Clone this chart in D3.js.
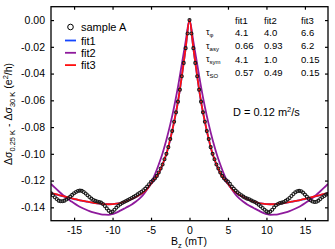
<!DOCTYPE html>
<html lang="en">
<head>
    <meta charset="UTF-8">
    <title>WAL fits</title>
    <script src="https://d3js.org/d3.v7.min.js"></script>
    <style>
        body { margin: 0; background: #fff; }
        svg { display: block; font-family: "Liberation Sans", Arial, sans-serif; }
    </style>
</head>
<body>
    <div id="chart"></div>

    <script>
    // Sample A, field step 0.25 mT from -18 to 18
    const sampleB = d3.range(-72, 73).map(i => i / 4);
    const sampleA = [
        -0.1295, -0.1310, -0.1325, -0.1338, -0.1350, -0.1355, -0.1355, -0.1350,
        -0.1342, -0.1332, -0.1320, -0.1307, -0.1295, -0.1285, -0.1278, -0.1275,
        -0.1277, -0.1285, -0.1297, -0.1310, -0.1323, -0.1335, -0.1345, -0.1352,
        -0.1357, -0.1360, -0.1365, -0.1375, -0.1390, -0.1408, -0.1425, -0.1437,
        -0.1432, -0.1418, -0.1402, -0.1388, -0.1377, -0.1368, -0.1360, -0.1353,
        -0.1346, -0.1338, -0.1330, -0.1322, -0.1313, -0.1303, -0.1293, -0.1283,
        -0.1272, -0.1260, -0.1245, -0.1228, -0.1210, -0.1198, -0.1185,
        -0.1165, -0.1140, -0.1110, -0.1080, -0.1040, -0.1000, -0.0950, -0.0890,
        -0.0830, -0.0760, -0.0690, -0.0610, -0.0520, -0.0420, -0.0320, -0.0210,
        -0.0100, 0.0000,
        -0.0100, -0.0210, -0.0320, -0.0420, -0.0520, -0.0610, -0.0690, -0.0760,
        -0.0830, -0.0890, -0.0950, -0.1000, -0.1040, -0.1080, -0.1110, -0.1140,
        -0.1165, -0.1185, -0.1198, -0.1208, -0.1225, -0.1245, -0.1260, -0.1275,
        -0.1288, -0.1300, -0.1310, -0.1320, -0.1328, -0.1335, -0.1340, -0.1348,
        -0.1355, -0.1360, -0.1370, -0.1380, -0.1392, -0.1405, -0.1418, -0.1430,
        -0.1438, -0.1432, -0.1418, -0.1400, -0.1385, -0.1375, -0.1368, -0.1365,
        -0.1360, -0.1352, -0.1342, -0.1330, -0.1315, -0.1300, -0.1287, -0.1280,
        -0.1277, -0.1280, -0.1290, -0.1305, -0.1320, -0.1335, -0.1348, -0.1357,
        -0.1360, -0.1358, -0.1350, -0.1338, -0.1325, -0.1315, -0.1305, -0.1300
    ];

    // fits, field step 0.5 mT from -18 to 18
    const fitB = d3.range(-36, 37).map(i => i / 2);
    const fit1 = [
        -0.1294, -0.1301, -0.1309, -0.1316, -0.1323, -0.1331, -0.1338, -0.1345,
        -0.1350, -0.1356, -0.1361, -0.1366, -0.1370, -0.1373, -0.1376, -0.1377,
        -0.1376, -0.1373, -0.1368, -0.1360, -0.1350, -0.1338, -0.1325, -0.1308,
        -0.1288, -0.1262, -0.1226, -0.1191, -0.1146, -0.1081, -0.1001, -0.0891,
        -0.0761, -0.0611, -0.0421, -0.0211, 0.0000,
        -0.0211, -0.0421, -0.0611, -0.0761, -0.0891, -0.1001, -0.1081, -0.1146,
        -0.1191, -0.1226, -0.1262, -0.1288, -0.1308, -0.1325, -0.1338, -0.1350,
        -0.1360, -0.1368, -0.1373, -0.1376, -0.1377, -0.1376, -0.1373, -0.1370,
        -0.1366, -0.1361, -0.1356, -0.1350, -0.1345, -0.1338, -0.1331, -0.1323,
        -0.1316, -0.1309, -0.1301, -0.1294
    ];
    const fit2 = [
        -0.1225, -0.1253, -0.1280, -0.1305, -0.1330, -0.1350, -0.1370, -0.1388,
        -0.1403, -0.1416, -0.1428, -0.1438, -0.1446, -0.1452, -0.1455, -0.1456,
        -0.1450, -0.1440, -0.1425, -0.1410, -0.1395, -0.1378, -0.1358, -0.1335,
        -0.1305, -0.1265, -0.1215, -0.1155, -0.1080, -0.0995, -0.0895, -0.0780,
        -0.0650, -0.0500, -0.0330, -0.0160, 0.0000,
        -0.0160, -0.0330, -0.0500, -0.0650, -0.0780, -0.0895, -0.0995, -0.1080,
        -0.1155, -0.1215, -0.1265, -0.1305, -0.1335, -0.1358, -0.1378, -0.1395,
        -0.1410, -0.1425, -0.1440, -0.1450, -0.1456, -0.1455, -0.1452, -0.1446,
        -0.1438, -0.1428, -0.1416, -0.1403, -0.1388, -0.1370, -0.1350, -0.1330,
        -0.1305, -0.1280, -0.1253, -0.1225
    ];
    const fit3 = [
        -0.1293, -0.1300, -0.1308, -0.1315, -0.1322, -0.1330, -0.1337, -0.1344,
        -0.1350, -0.1355, -0.1361, -0.1366, -0.1370, -0.1373, -0.1376, -0.1377,
        -0.1376, -0.1373, -0.1368, -0.1360, -0.1350, -0.1338, -0.1325, -0.1308,
        -0.1288, -0.1262, -0.1225, -0.1190, -0.1145, -0.1080, -0.1000, -0.0890,
        -0.0760, -0.0610, -0.0420, -0.0210, 0.0000,
        -0.0210, -0.0420, -0.0610, -0.0760, -0.0890, -0.1000, -0.1080, -0.1145,
        -0.1190, -0.1225, -0.1262, -0.1288, -0.1308, -0.1325, -0.1338, -0.1350,
        -0.1360, -0.1368, -0.1373, -0.1376, -0.1377, -0.1376, -0.1373, -0.1370,
        -0.1366, -0.1361, -0.1355, -0.1350, -0.1344, -0.1337, -0.1330, -0.1322,
        -0.1315, -0.1308, -0.1300, -0.1293
    ];

    const xTicks = [-15, -10, -5, 0, 5, 10, 15];
    const yTicks = [-0.14, -0.12, -0.10, -0.08, -0.06, -0.04, -0.02, 0.00];

    const fitNames = ["fit1", "fit2", "fit3"];
    const fitColors = ["#1446ff", "#8e1a9c", "#ff1010"];

    // parameter table
    const tauNames = [["\u03c4", "\u03c6"], ["\u03c4", "asy"], ["\u03c4", "sym"], ["\u03c4", "SO"]];
    const tauValues = [
        ["4.1", "4.0", "6.6"],
        ["0.66", "0.93", "6.2"],
        ["4.1", "1.0", "0.15"],
        ["0.57", "0.49", "0.15"]
    ];

    const width = 335, height = 249;
    const margin = {top: 6.7, right: 7, bottom: 28.3, left: 51};

    const svg = d3.select("#chart").append("svg")
        .attr("width", width)
        .attr("height", height);

    const x = d3.scaleLinear().domain([-18, 18]).range([margin.left, width - margin.right]);
    const y = d3.scaleLinear().domain([-0.15, 0.01]).range([height - margin.bottom, margin.top]);

    const hyphen = s => s.replace("\u2212", "-");
    const tk = 3;

    // ticks inside the box, all four sides
    svg.append("g")
        .attr("transform", `translate(0,${y.range()[0]})`)
        .call(d3.axisBottom(x).tickValues(xTicks).tickSize(-tk).tickPadding(6)
            .tickFormat(d => hyphen(d3.format("d")(d))))
        .call(g => g.select(".domain").remove());
    svg.append("g")
        .attr("transform", `translate(0,${y.range()[1]})`)
        .call(d3.axisTop(x).tickValues(xTicks).tickSize(-tk).tickFormat(""))
        .call(g => g.select(".domain").remove());
    svg.append("g")
        .attr("transform", `translate(${x.range()[0]},0)`)
        .call(d3.axisLeft(y).tickValues(yTicks).tickSize(-tk).tickPadding(6)
            .tickFormat(d => hyphen(d3.format(".2f")(d))))
        .call(g => g.select(".domain").remove());
    svg.append("g")
        .attr("transform", `translate(${x.range()[1]},0)`)
        .call(d3.axisRight(y).tickValues(yTicks).tickSize(-tk).tickFormat(""))
        .call(g => g.select(".domain").remove());

    svg.selectAll(".tick text")
        .attr("font-size", 10.5)
        .attr("font-family", "Liberation Sans, Arial, sans-serif")
        .attr("fill", "#000");
    svg.selectAll(".tick line").attr("stroke", "#000").attr("stroke-width", 1.2);

    // clip for the curves
    svg.append("clipPath").attr("id", "plotclip")
        .append("rect")
        .attr("x", x.range()[0]).attr("y", y.range()[1])
        .attr("width", x.range()[1] - x.range()[0])
        .attr("height", y.range()[0] - y.range()[1]);

    const plot = svg.append("g").attr("clip-path", "url(#plotclip)");

    const line = d3.line()
        .x(d => x(d[0]))
        .y(d => y(d[1]))
        .curve(d3.curveMonotoneX);

    [fit1, fit2, fit3].forEach((vals, i) => {
        plot.append("path")
            .datum(fitB.map((b, j) => [b, vals[j]]))
            .attr("fill", "none")
            .attr("stroke", fitColors[i])
            .attr("stroke-width", 1.8)
            .attr("d", line);
    });

    plot.selectAll("circle.sample")
        .data(sampleB.map((b, j) => [b, sampleA[j]]))
        .enter()
        .append("circle")
        .classed("sample", true)
        .attr("cx", d => x(d[0]))
        .attr("cy", d => y(d[1]))
        .attr("r", 1.5)
        .attr("fill", "none")
        .attr("stroke", "#1a1a1a")
        .attr("stroke-width", 1.1);

    // frame
    svg.append("rect")
        .attr("x", x.range()[0]).attr("y", y.range()[1])
        .attr("width", x.range()[1] - x.range()[0])
        .attr("height", y.range()[0] - y.range()[1])
        .attr("fill", "none")
        .attr("stroke", "#000")
        .attr("stroke-width", 1.3);

    // legend
    const leg = svg.append("g").attr("font-size", 11);
    leg.append("circle").attr("cx", 70.5).attr("cy", 27)
        .attr("r", 2.8).attr("fill", "none").attr("stroke", "#000").attr("stroke-width", 1);
    leg.append("text").attr("x", 81).attr("y", 31).text("sample A");
    fitNames.forEach((n, i) => {
        const yy = 40.5 + i * 12.3;
        leg.append("line").attr("x1", 65).attr("x2", 76).attr("y1", yy).attr("y2", yy)
            .attr("stroke", fitColors[i]).attr("stroke-width", 1.8);
        leg.append("text").attr("x", 81).attr("y", yy + 4).text(n);
    });

    // parameter table
    const colX = [235, 264, 301];
    const rowY = [32, 45.5, 59, 72.5];
    const tab = svg.append("g").attr("font-size", 9.5);
    fitNames.forEach((n, i) => {
        tab.append("text").attr("x", colX[i]).attr("y", 23.5).text(n);
    });
    tauNames.forEach((t, r) => {
        const txt = tab.append("text").attr("x", 206).attr("y", rowY[r] + 3);
        txt.append("tspan").attr("font-size", 9).text(t[0]);
        txt.append("tspan").attr("font-size", 6).attr("dy", 2).text(t[1]);
        tauValues[r].forEach((v, i) => {
            tab.append("text").attr("x", colX[i]).attr("y", rowY[r] + 3.5).text(v);
        });
    });

    const dtxt = svg.append("text").attr("x", 233).attr("y", 116).attr("font-size", 11);
    dtxt.append("tspan").text("D = 0.12 m");
    dtxt.append("tspan").attr("font-size", 7.5).attr("dy", -4).text("2");
    dtxt.append("tspan").attr("dy", 4).text("/s");

    // axis labels
    const xl = svg.append("text").attr("x", 189).attr("y", 245)
        .attr("text-anchor", "middle").attr("font-size", 10.5);
    xl.append("tspan").text("B");
    xl.append("tspan").attr("font-size", 7.5).attr("dy", 2.5).text("z");
    xl.append("tspan").attr("dy", -2.5).text(" (mT)");

    const yl = svg.append("text")
        .attr("transform", "translate(12,114) rotate(-90)")
        .attr("text-anchor", "middle").attr("font-size", 10.5);
    yl.append("tspan").text("\u0394\u03c3");
    yl.append("tspan").attr("font-size", 7.5).attr("dy", 2.5).text("0.25 K");
    yl.append("tspan").attr("dy", -2.5).text(" - \u0394\u03c3");
    yl.append("tspan").attr("font-size", 7.5).attr("dy", 2.5).text("30 K");
    yl.append("tspan").attr("dy", -2.5).text(" (e");
    yl.append("tspan").attr("font-size", 7.5).attr("dy", -4).text("2");
    yl.append("tspan").attr("dy", 4).text("/h)");
    </script>
</body>
</html>
